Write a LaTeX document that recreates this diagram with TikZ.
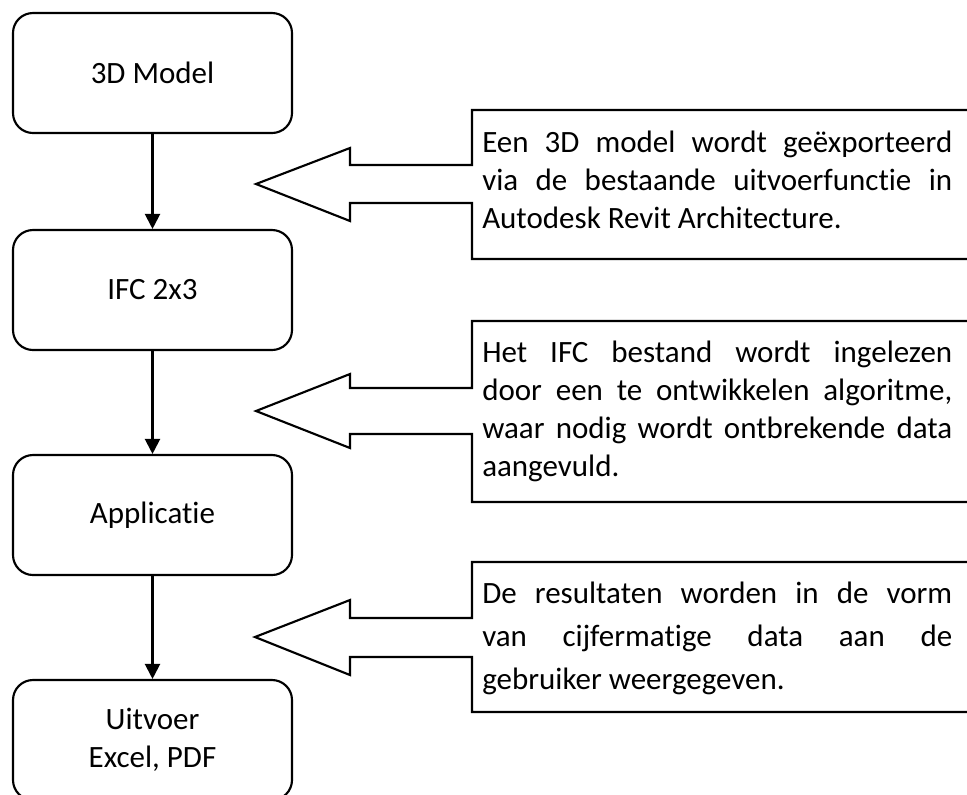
\documentclass[tikz,border=0pt]{standalone}
\usepackage{fontspec}
\setmainfont{Carlito}[Ligatures={NoCommon,NoContextual}]
\usetikzlibrary{arrows.meta}
\begin{document}
\begin{tikzpicture}[x=0.75pt,y=-0.75pt,
  stage/.style={draw,line width=1.6pt,rounded corners=15pt,minimum width=209.25pt,
    minimum height=90pt,inner sep=0pt,align=center,
    font=\fontsize{23.25pt}{28.5pt}\selectfont},
  flow/.style={line width=1.6pt,-{Triangle[width=11.25pt,length=11.25pt]}},
  callout/.style={draw,line width=1.6pt,line join=miter},
  note/.style={anchor=base west,inner sep=0pt}]
\useasboundingbox (0,0) rectangle (967,794);

% process stages
\node[stage] (m3d)  at (152.5,73)  {3D Model};
\node[stage] (ifc)  at (152.5,290) {IFC 2x3};
\node[stage] (app)  at (152.5,515) {Applicatie};
\node[stage] (out)  at (152.5,740) {Uitvoer\\Excel, PDF};

\draw[flow] (m3d) -- (ifc);
\draw[flow] (ifc) -- (app);
\draw[flow] (app) -- (out);

% left-arrow callouts
\draw[callout] (472,165) -- (350,165) -- (350,148) -- (256,184) -- (350,221)
  -- (350,203) -- (472,203) -- (472,259) -- (990,259) -- (990,110) -- (472,110) -- cycle;
\draw[callout] (472,388) -- (350,388) -- (350,374) -- (256,411) -- (350,448)
  -- (350,434) -- (472,434) -- (472,502) -- (990,502) -- (990,321) -- (472,321) -- cycle;
\draw[callout] (472,618) -- (350,618) -- (350,600) -- (255,637) -- (350,675)
  -- (350,657) -- (472,657) -- (472,712) -- (990,712) -- (990,562) -- (472,562) -- cycle;

% callout texts, justified
\node[note] (n1) at (482,152) {\parbox[t]{352.5pt}{\fontsize{23.25pt}{28.5pt}\selectfont
  \makebox[352.5pt][s]{Een 3D model wordt geëxporteerd}\\
  \makebox[352.5pt][s]{via de bestaande uitvoerfunctie in}\\
  Autodesk Revit Architecture.}};
\node[note] (n2) at (482,362) {\parbox[t]{352.5pt}{\fontsize{23.25pt}{28.6pt}\selectfont
  \makebox[352.5pt][s]{Het IFC bestand wordt ingelezen}\\
  \makebox[352.5pt][s]{door een te ontwikkelen algoritme,}\\
  \makebox[352.5pt][s]{waar nodig wordt ontbrekende data}\\
  aangevuld.}};
\node[note] (n3) at (482,603) {\parbox[t]{352.5pt}{\fontsize{23.25pt}{32.6pt}\selectfont
  \makebox[352.5pt][s]{De resultaten worden in de vorm}\\
  \makebox[352.5pt][s]{van cijfermatige data aan de}\\
  gebruiker weergegeven.}};
\end{tikzpicture}
\end{document}
